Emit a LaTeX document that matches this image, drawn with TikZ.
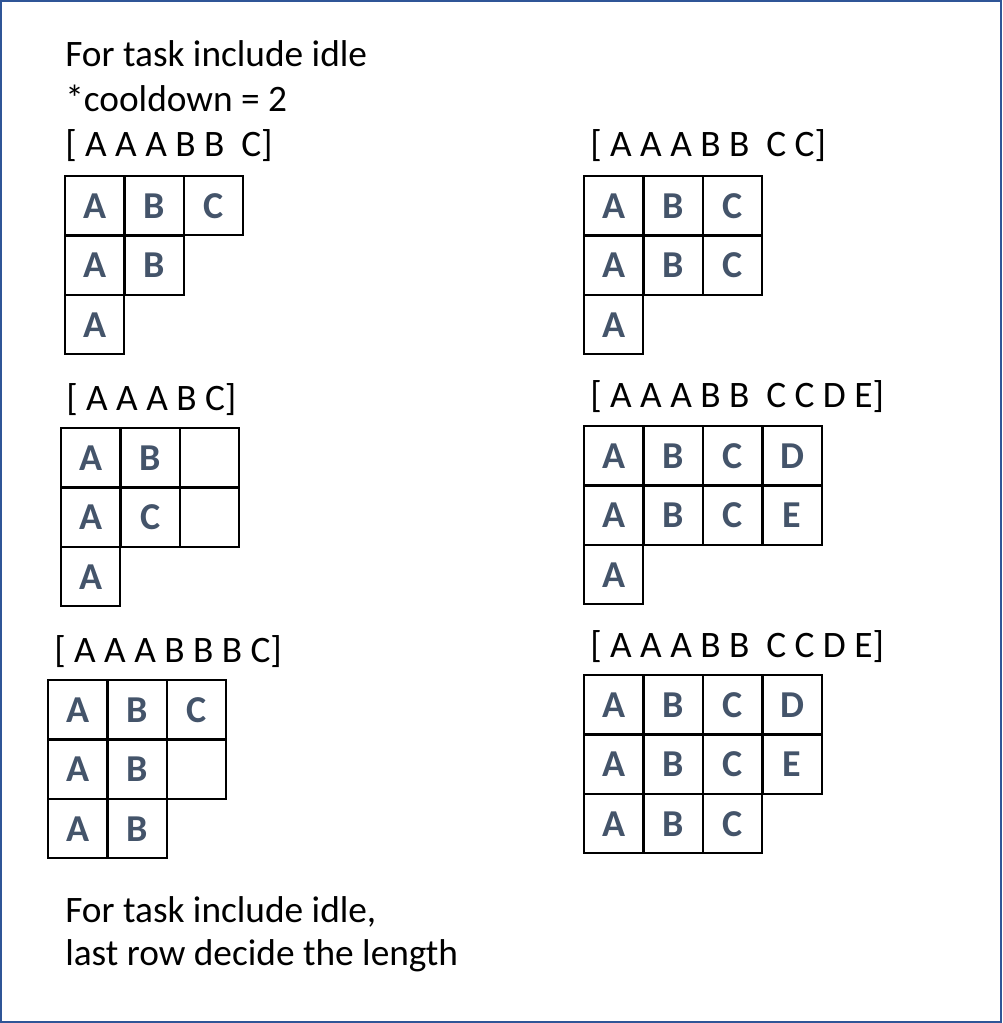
\documentclass[tikz,border=0pt]{standalone}
\usepackage{fontspec}
\setmainfont{Carlito}
\definecolor{framecol}{HTML}{2F5597}
\definecolor{taskcol}{HTML}{44546A}

\begin{document}
\begin{tikzpicture}[x=0.75pt,y=-0.75pt]
       \tikzset{cell/.style={rectangle, draw, line width=1.5pt, minimum width=44.6pt,
                minimum height=44.6pt, inner sep=0pt, text=taskcol,
                font=\fontsize{28.5}{34}\selectfont\bfseries}}

       \tikzset{caption/.style={anchor=base west, inner sep=0pt,
                font=\fontsize{28}{34}\selectfont}}

        \useasboundingbox (0,0) rectangle (1002,1023);
        \draw[framecol, line width=1.6pt] (1,1) rectangle (1001,1022);

        \node[caption] (title1) at (65,67) {For task include idle};
        \node[caption] (title2) at (65,112) {*cooldown = 2};

        \node[caption] (list1) at (65,157) {[ A A A B B\ \ C]};
        \node[caption] (list2) at (590,157) {[ A A A B B\ \ C C]};
        \node[caption] (list3) at (66,410) {[ A A A B C]};
        \node[caption] (list4) at (590,407) {[ A A A B B\ \ C C D E]};
        \node[caption] (list5) at (54,662) {[ A A A B B B C]};
        \node[caption] (list6) at (590,657) {[ A A A B B\ \ C C D E]};

        % grids: column/row/task
        \foreach \c/\r/\t in {0/0/A,1/0/B,2/0/C,0/1/A,1/1/B,0/2/A}
            \node[cell] (gridA-\c-\r) at (65+59.5*\c+29.75,176+59.5*\r+29.75) {\t};
        \foreach \c/\r/\t in {0/0/A,1/0/B,2/0/C,0/1/A,1/1/B,2/1/C,0/2/A}
            \node[cell] (gridB-\c-\r) at (584+59.5*\c+29.75,176+59.5*\r+29.75) {\t};
        \foreach \c/\r/\t in {0/0/A,1/0/B,2/0/,0/1/A,1/1/C,2/1/,0/2/A}
            \node[cell] (gridC-\c-\r) at (61+59.5*\c+29.75,428+59.5*\r+29.75) {\t};
        \foreach \c/\r/\t in {0/0/A,1/0/B,2/0/C,3/0/D,0/1/A,1/1/B,2/1/C,3/1/E,0/2/A}
            \node[cell] (gridD-\c-\r) at (584+59.5*\c+29.75,426+59.5*\r+29.75) {\t};
        \foreach \c/\r/\t in {0/0/A,1/0/B,2/0/C,0/1/A,1/1/B,2/1/,0/2/A,1/2/B}
            \node[cell] (gridE-\c-\r) at (48+59.5*\c+29.75,680+59.5*\r+29.75) {\t};
        \foreach \c/\r/\t in {0/0/A,1/0/B,2/0/C,3/0/D,0/1/A,1/1/B,2/1/C,3/1/E,0/2/A,1/2/B,2/2/C}
            \node[cell] (gridF-\c-\r) at (584+59.5*\c+29.75,675+59.5*\r+29.75) {\t};

        \node[caption] (note1) at (65,922) {For task include idle,};
        \node[caption] (note2) at (65,965) {last row decide the length};

   \end{tikzpicture}
\end{document}
